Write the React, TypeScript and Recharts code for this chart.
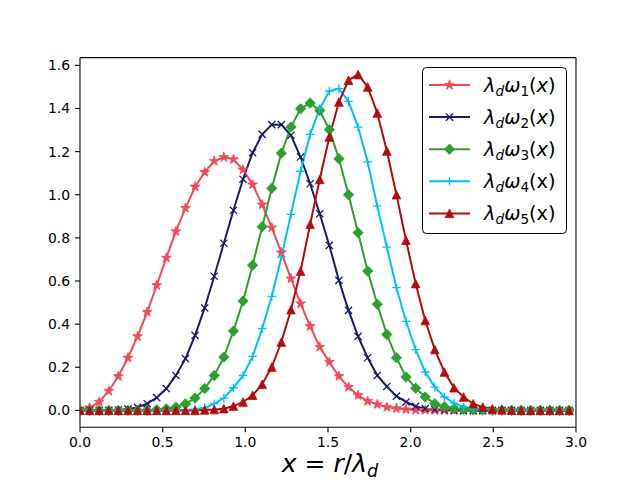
import React from "react";
import { LineChart, Line, XAxis, YAxis, Legend } from "recharts";

// sample positions along x = r / lambda_d
const xs = [
  0, 0.058, 0.116, 0.174, 0.232, 0.29, 0.348, 0.406, 0.464, 0.522, 0.58, 0.638, 0.696,
  0.754, 0.812, 0.87, 0.928, 0.986, 1.044, 1.102, 1.16, 1.218, 1.276, 1.334, 1.392, 1.45,
  1.508, 1.566, 1.624, 1.682, 1.74, 1.798, 1.856, 1.914, 1.972, 2.03, 2.088, 2.146, 2.204,
  2.262, 2.32, 2.378, 2.436, 2.494, 2.552, 2.61, 2.668, 2.726, 2.784, 2.842, 2.9, 2.958,
];

const w1 = [
  0.002, 0.013, 0.039, 0.09, 0.158, 0.244, 0.343, 0.456, 0.58, 0.707, 0.83, 0.938, 1.037,
  1.105, 1.156, 1.174, 1.164, 1.116, 1.047, 0.954, 0.847, 0.732, 0.611, 0.495, 0.39, 0.294,
  0.224, 0.158, 0.108, 0.07, 0.043, 0.028, 0.015, 0.009, 0.004, 0.002, 0.001, 0, 0,
  0, 0, 0, 0, 0, 0, 0, 0, 0, 0, 0, 0, 0,
];
const w2 = [
  0, 0, 0, 0, 0.002, 0.006, 0.014, 0.031, 0.059, 0.101, 0.162, 0.24, 0.348,
  0.475, 0.622, 0.775, 0.928, 1.072, 1.195, 1.28, 1.325, 1.325, 1.276, 1.175, 1.051, 0.912,
  0.765, 0.603, 0.464, 0.343, 0.244, 0.162, 0.111, 0.066, 0.039, 0.019, 0.008, 0.004, 0.002,
  0.001, 0, 0, 0, 0, 0, 0, 0, 0, 0, 0, 0, 0,
];
const w3 = [
  0, 0, 0, 0, 0, 0, 0, 0, 0.003, 0.007, 0.015, 0.03, 0.057,
  0.101, 0.162, 0.247, 0.368, 0.507, 0.673, 0.852, 1.03, 1.193, 1.314, 1.399, 1.425, 1.391,
  1.302, 1.167, 1.0, 0.824, 0.646, 0.492, 0.352, 0.244, 0.155, 0.103, 0.062, 0.031, 0.017,
  0.008, 0.004, 0.002, 0.001, 0, 0, 0, 0, 0, 0, 0, 0, 0,
];
const w4 = [
  0, 0, 0, 0, 0, 0, 0, 0, 0, 0, 0, 0.002, 0.005,
  0.012, 0.03, 0.057, 0.105, 0.162, 0.25, 0.379, 0.529, 0.711, 0.909, 1.109, 1.28, 1.399,
  1.481, 1.492, 1.433, 1.314, 1.152, 0.948, 0.757, 0.569, 0.413, 0.282, 0.178, 0.108, 0.062,
  0.034, 0.015, 0.008, 0.004, 0.002, 0.001, 0, 0, 0, 0, 0, 0, 0,
];
const w5 = [
  0, 0, 0, 0, 0, 0, 0, 0, 0, 0, 0, 0, 0,
  0.002, 0.004, 0.008, 0.02, 0.039, 0.07, 0.121, 0.201, 0.317, 0.467, 0.646, 0.863, 1.071,
  1.268, 1.43, 1.531, 1.558, 1.5, 1.379, 1.203, 1.0, 0.789, 0.588, 0.417, 0.282, 0.178,
  0.105, 0.062, 0.031, 0.015, 0.007, 0.003, 0.001, 0, 0, 0, 0, 0, 0,
];

const xTicks = [0, 0.5, 1.0, 1.5, 2.0, 2.5, 3.0];
const yTicks = [0, 0.2, 0.4, 0.6, 0.8, 1.0, 1.2, 1.4, 1.6];

const rows = xs.map((x, i) => ({ x, w1: w1[i], w2: w2[i], w3: w3[i], w4: w4[i], w5: w5[i] }));

type Mk = "star" | "x" | "diamond" | "plus" | "tri";

const series: { key: string; color: string; marker: Mk; sub: string; italicX: boolean }[] = [
  { key: "w1", color: "#EF4B5A", marker: "star", sub: "1", italicX: true },
  { key: "w2", color: "#191970", marker: "x", sub: "2", italicX: true },
  { key: "w3", color: "#2CA02C", marker: "diamond", sub: "3", italicX: true },
  { key: "w4", color: "#00BFFF", marker: "plus", sub: "4", italicX: false },
  { key: "w5", color: "#B20C0C", marker: "tri", sub: "5", italicX: false },
];

function Marker({ kind, cx, cy, color }: { kind: Mk; cx: number; cy: number; color: string }) {
  if (kind === "star") {
    const pts: string[] = [];
    for (let k = 0; k < 10; k++) {
      const r = k % 2 === 0 ? 5.2 : 2.1;
      const a = -Math.PI / 2 + (k * Math.PI) / 5;
      pts.push(`${cx + r * Math.cos(a)},${cy + r * Math.sin(a)}`);
    }
    return <polygon points={pts.join(" ")} fill={color} stroke={color} strokeWidth={0.8} />;
  }
  if (kind === "x") {
    const h = 3.6;
    return (
      <g stroke={color} strokeWidth={1.3}>
        <line x1={cx - h} y1={cy - h} x2={cx + h} y2={cy + h} />
        <line x1={cx - h} y1={cy + h} x2={cx + h} y2={cy - h} />
      </g>
    );
  }
  if (kind === "diamond") {
    const h = 5.2;
    return (
      <polygon
        points={`${cx},${cy - h} ${cx + h},${cy} ${cx},${cy + h} ${cx - h},${cy}`}
        fill={color}
        stroke={color}
        strokeWidth={0.8}
      />
    );
  }
  if (kind === "plus") {
    const h = 4.3;
    return (
      <g stroke={color} strokeWidth={1.3}>
        <line x1={cx - h} y1={cy} x2={cx + h} y2={cy} />
        <line x1={cx} y1={cy - h} x2={cx} y2={cy + h} />
      </g>
    );
  }
  const r = 4.3;
  return (
    <polygon
      points={`${cx},${cy - r} ${cx + r},${cy + r} ${cx - r},${cy + r}`}
      fill={color}
      stroke={color}
      strokeWidth={0.8}
    />
  );
}

function LegendBox() {
  return (
    <svg width={146} height={168} style={{ display: "block" }}>
      <rect x={0.5} y={0.5} width={144} height={166} rx={4} fill="#fff" stroke="#000" strokeWidth={1} />
      {series.map((s, i) => {
        const y = 18 + i * 32.1;
        return (
          <g key={s.key}>
            <line x1={7} y1={y} x2={48} y2={y} stroke={s.color} strokeWidth={2} />
            <Marker kind={s.marker} cx={27.5} cy={y} color={s.color} />
            <text x={62} y={y + 7} fontSize={19.4} fontFamily="DejaVu Sans" fill="#000">
              <tspan fontStyle="italic">λ</tspan>
              <tspan fontStyle="italic" fontSize={13.6} dy={4}>d</tspan>
              <tspan fontStyle="italic" dy={-4}>ω</tspan>
              <tspan fontSize={13.6} dy={4}>{s.sub}</tspan>
              <tspan dy={-4}>(</tspan>
              <tspan fontStyle={s.italicX ? "italic" : "normal"}>x</tspan>
              <tspan>)</tspan>
            </text>
          </g>
        );
      })}
    </svg>
  );
}

const tickStyle = { fill: "#000", fontSize: 13.9, fontFamily: "DejaVu Sans" };

export default function App() {
  return (
    <div style={{ position: "absolute", left: 0, top: 0, width: 640, height: 480, background: "#fff" }}>
      <LineChart
        width={640}
        height={480}
        data={rows}
        margin={{ top: 56.6, right: 63, bottom: 22.8, left: 40 }}
      >
        <XAxis
          xAxisId="b"
          type="number"
          dataKey="x"
          domain={[0, 3]}
          ticks={xTicks}
          tickFormatter={(v: number) => v.toFixed(1)}
          height={30}
          tickSize={5}
          tickMargin={5}
          stroke="#000"
          strokeWidth={1.1}
          tick={tickStyle}
          allowDataOverflow
        />
        <XAxis
          xAxisId="t"
          orientation="top"
          type="number"
          dataKey="x"
          domain={[0, 3]}
          height={1}
          tick={false}
          tickLine={false}
          stroke="#000"
          strokeWidth={1.1}
        />
        <YAxis
          yAxisId="l"
          type="number"
          domain={[-0.078, 1.636]}
          ticks={yTicks}
          tickFormatter={(v: number) => v.toFixed(1)}
          width={40}
          tickSize={5}
          tickMargin={5}
          stroke="#000"
          strokeWidth={1.1}
          tick={tickStyle}
          allowDataOverflow
        />
        <YAxis
          yAxisId="r"
          orientation="right"
          type="number"
          domain={[-0.078, 1.636]}
          width={1}
          tick={false}
          tickLine={false}
          stroke="#000"
          strokeWidth={1.1}
        />
        {series.map((s) => (
          <Line
            key={s.key}
            xAxisId="b"
            yAxisId="l"
            type="linear"
            dataKey={s.key}
            stroke={s.color}
            strokeWidth={2}
            isAnimationActive={false}
            activeDot={false}
            dot={(p: any) => (
              <Marker key={`${s.key}-${p.index}`} kind={s.marker} cx={p.cx} cy={p.cy} color={s.color} />
            )}
          />
        ))}
        <Legend
          layout="vertical"
          align="center"
          verticalAlign="middle"
          content={() => <LegendBox />}
          wrapperStyle={{ left: 422, top: 67, width: 146, height: 168 }}
        />
      </LineChart>
      <svg width={640} height={480} style={{ position: "absolute", left: 0, top: 0, pointerEvents: "none" }}>
        <text x={330} y={472} textAnchor="middle" fontSize={25} fontFamily="DejaVu Sans" fill="#000">
          <tspan fontStyle="italic">x</tspan>
          <tspan> = </tspan>
          <tspan fontStyle="italic">r</tspan>
          <tspan>/</tspan>
          <tspan fontStyle="italic">λ</tspan>
          <tspan fontStyle="italic" fontSize={17.5} dy={5}>d</tspan>
        </text>
      </svg>
    </div>
  );
}
